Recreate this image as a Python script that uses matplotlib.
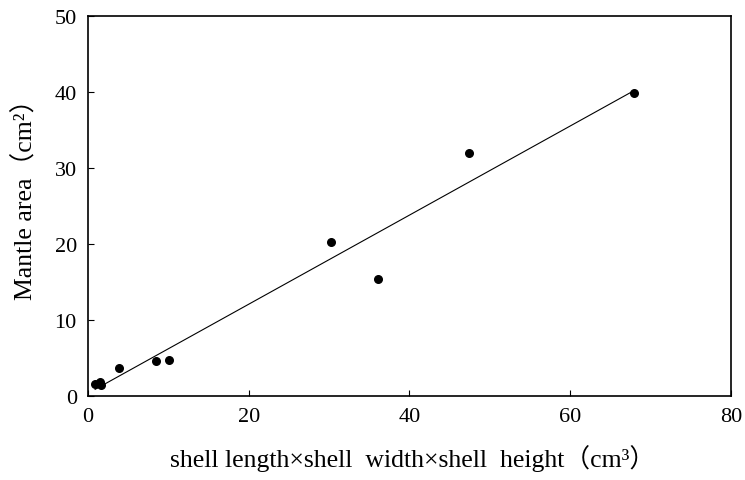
import numpy as np
import matplotlib.pyplot as plt

plt.rcParams['font.family'] = ['Liberation Serif', 'Noto Sans CJK SC']

# shell length x width x height (cm3) and mantle area (cm2)
volume = [0.9, 1.5, 1.6, 3.9, 8.5, 10.1, 30.3, 36.1, 47.4, 67.9]
mantle = [1.6, 1.8, 1.4, 3.6, 4.6, 4.7, 20.3, 15.4, 32.0, 39.9]

fig = plt.figure(figsize=(7.45, 4.81), dpi=100)
ax = fig.add_axes([0.118, 0.175, 0.863, 0.79])

ax.scatter(volume, mantle, color='black', s=30, zorder=3)
k, b = np.polyfit(volume, mantle, 1)
xs = np.array([min(volume), max(volume)])
ax.plot(xs, k * xs + b, color='black', lw=0.8)

ax.set_xlim(0, 80)
ax.set_ylim(0, 50)
ax.set_xticks([0, 20, 40, 60, 80])
ax.set_yticks([0, 10, 20, 30, 40, 50])
ax.tick_params(direction='in', length=4, labelsize=16, pad=8)
for s in ax.spines.values():
    s.set_linewidth(1.2)

ax.set_xlabel('shell length×shell  width×shell  height（cm³）', fontsize=18.5)
ax.set_ylabel('Mantle area（cm²）', fontsize=18.5)
ax.xaxis.set_label_coords(0.505, -0.127)
ax.yaxis.set_label_coords(-0.079, 0.535)

fig.savefig('out.png')
